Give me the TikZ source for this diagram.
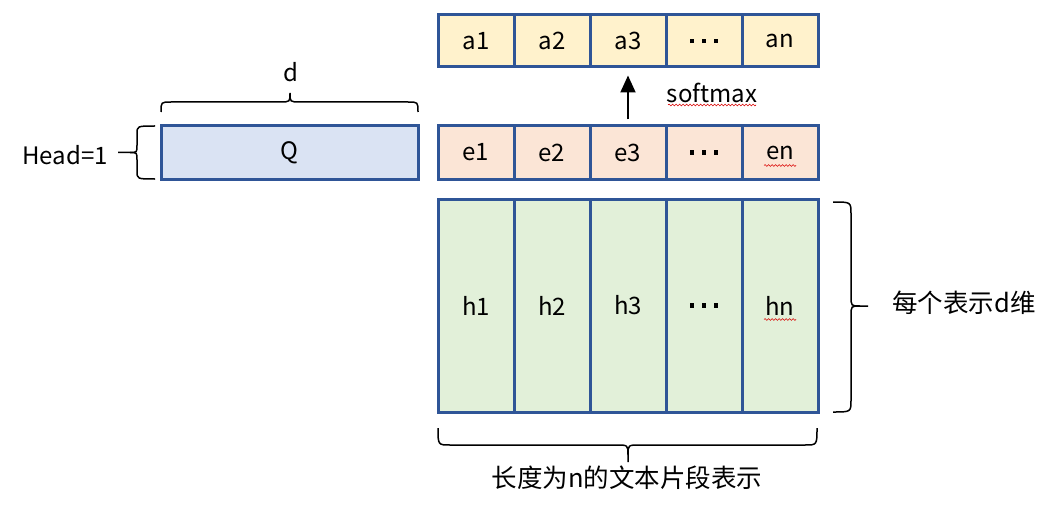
\documentclass[tikz,border=0pt]{standalone}
\usepackage{fontspec}
\setmainfont{Noto Sans CJK SC}
\usetikzlibrary{arrows.meta,decorations.pathmorphing}
\definecolor{boxblue}{HTML}{2F5597}
\definecolor{qfill}{HTML}{DAE3F3}
\definecolor{afill}{HTML}{FFF2CC}
\definecolor{efill}{HTML}{FBE5D6}
\definecolor{hfill}{HTML}{E2F0D9}
\newcommand{\mydots}{\rule{4.5pt}{4.5pt}\hspace{7.5pt}\rule{4.5pt}{4.5pt}\hspace{7.5pt}\rule{4.5pt}{4.5pt}}
\begin{document}
\begin{tikzpicture}[x=1pt,y=-1pt,font=\fontsize{24}{28}\selectfont,
  cell/.style={draw=boxblue,line width=3pt,minimum width=76pt,inner sep=0pt,anchor=center},
  acell/.style={cell,fill=afill,minimum height=52pt},
  ecell/.style={cell,fill=efill,minimum height=53pt},
  hcell/.style={cell,fill=hfill,minimum height=213pt},
  qbox/.style={draw=boxblue,line width=3pt,fill=qfill,minimum width=257pt,minimum height=53pt,inner sep=0pt},
  cjk/.style={font=\fontsize{25.5}{30}\selectfont},
  brace/.style={draw=black,line width=1.5pt},
  squiggle/.style={draw=red!85!black,line width=0.6pt,decorate,decoration={snake,amplitude=0.9pt,segment length=3.5pt}},
  arr/.style={draw=black,line width=2pt,-{Triangle[length=17pt,width=15pt]}}]
\useasboundingbox (0,0) rectangle (1044,508);

% Q
\node[qbox] (q) at (289.5,152.5) {Q};
\node (d) at (291,72) {d};
\node (head) at (65,155) {Head=1};

% a row
\node[acell] (a1) at (476,41) {a1};
\node[acell] (a2) at (552,41) {a2};
\node[acell] (a3) at (628,41) {a3};
\node[acell] (a4) at (704,41) {\mydots};
\node[acell] (a5) at (780,41) {an};

% e row
\node[ecell] (e1) at (476,152.5) {e1};
\node[ecell] (e2) at (552,152.5) {e2};
\node[ecell] (e3) at (628,152.5) {e3};
\node[ecell] (e4) at (704,152.5) {\mydots};
\node[ecell] (e5) at (780,152.5) {en};

% h block
\node[hcell] (h1) at (476,305.5) {h1};
\node[hcell] (h2) at (552,305.5) {h2};
\node[hcell] (h3) at (628,305.5) {h3};
\node[hcell] (h4) at (704,305.5) {\mydots};
\node[hcell] (h5) at (780,305.5) {hn};

% arrow + softmax
\draw[arr] ([yshift=5pt]e3.north) -- ([yshift=-7pt]a3.south);
\node (sm) at (712,93) {softmax};

% labels
\node[cjk] (dim) at (964,303) {每个表示d维};
\node[cjk] (len) at (627,478) {长度为n的文本片段表示};

% braces
% top brace over Q
\draw[brace] (161,112) .. controls (161,102) .. (171,102) -- (280,102)
  .. controls (290,102) .. (290,93) .. controls (290,102) .. (300,102)
  -- (408,102) .. controls (418,102) .. (418,112);
% left brace (Head=1)
\draw[brace] (155,126) .. controls (137,126) .. (137,134) -- (137,145)
  .. controls (137,152.5) .. (130,152.5) -- (118,152.5);
\draw[brace] (155,179) .. controls (137,179) .. (137,171) -- (137,160)
  .. controls (137,152.5) .. (130,152.5);
% right brace
\draw[brace] (833,202) .. controls (851,202) .. (851,214) -- (851,296)
  .. controls (851,306) .. (860,306) -- (868,306);
\draw[brace] (833,412) .. controls (851,412) .. (851,400) -- (851,316)
  .. controls (851,306) .. (860,306);
% bottom brace
\draw[brace] (438,428) .. controls (438,445) .. (450,445) -- (616,445)
  .. controls (628,445) .. (628,455) -- (628,462);
\draw[brace] (817,428) .. controls (817,445) .. (805,445) -- (640,445)
  .. controls (628,445) .. (628,455);

% spell-check squiggles
\draw[squiggle] ([xshift=-44pt,yshift=-12pt]sm.center) -- ([xshift=44pt,yshift=-12pt]sm.center);
\draw[squiggle] ([xshift=-16pt,yshift=-13pt]e5.center) -- ([xshift=16pt,yshift=-13pt]e5.center);
\draw[squiggle] ([xshift=-16pt,yshift=-14pt]h5.center) -- ([xshift=16pt,yshift=-14pt]h5.center);
\end{tikzpicture}
\end{document}
